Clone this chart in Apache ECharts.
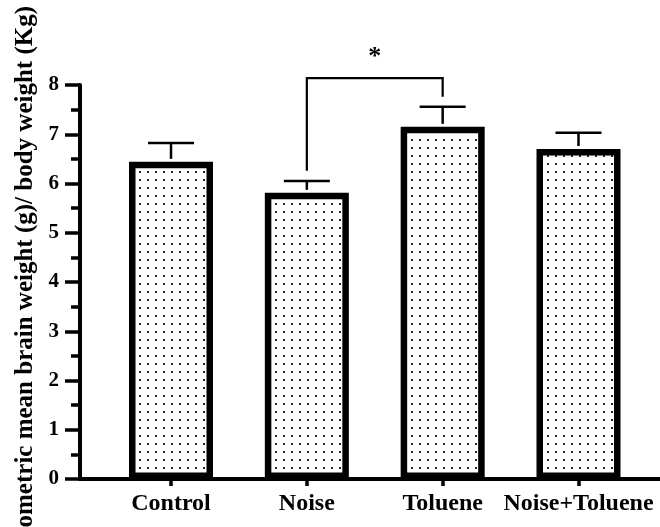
<!DOCTYPE html>
<html>
<head>
<meta charset="utf-8">
<script src="https://cdn.jsdelivr.net/npm/echarts@6/dist/echarts.min.js"></script>
<style>
html,body{margin:0;padding:0;background:#fff;}
#chart{width:660px;height:527px;}
</style>
</head>
<body>
<div id="chart"></div>
<script>
const categories = ['Control', 'Noise', 'Toluene', 'Noise+Toluene'];
const means = [6.44, 5.81, 7.15, 6.70];
const errorTops = [6.82, 6.05, 7.56, 7.03];
const yTicks = [0, 1, 2, 3, 4, 5, 6, 7, 8];
const sigPair = [1, 2];
const sigTop = 8.14;
const sigLeftBottom = 6.26;
const sigRightBottom = 7.76;
const sigLabel = '*';
const yName = 'Geometric mean brain weight (g)/ body weight (Kg)';

const FONT = "'Liberation Serif', 'Times New Roman', 'DejaVu Serif', serif";

// dotted fill pattern
const pc = document.createElement('canvas');
pc.width = 8; pc.height = 8;
const pctx = pc.getContext('2d');
pctx.fillStyle = '#fff';
pctx.fillRect(0, 0, 8, 8);
pctx.fillStyle = '#222';
pctx.fillRect(3, 3, 2, 2);

const chart = echarts.init(document.getElementById('chart'), null, {renderer: 'canvas'});

const option = {
  backgroundColor: '#fff',
  animation: false,
  grid: {left: 80, right: 0, top: 85, bottom: 48, containLabel: false, outerBoundsMode: 'none'},
  xAxis: {
    type: 'value',
    min: -0.67,
    max: 3.6,
    splitLine: {show: false},
    axisLine: {show: true, onZero: false, lineStyle: {color: '#000', width: 4}},
    axisTick: {show: true, customValues: [0, 1, 2, 3], length: 7, lineStyle: {color: '#000', width: 3.5}},
    axisLabel: {
      show: true,
      customValues: [0, 1, 2, 3],
      formatter: v => categories[Math.round(v)],
      margin: 13,
      color: '#000',
      fontFamily: FONT,
      fontWeight: 'bold',
      fontSize: 24
    }
  },
  yAxis: {
    type: 'value',
    min: yTicks[0],
    max: yTicks[yTicks.length - 1],
    interval: 1,
    name: yName,
    nameLocation: 'middle',
    nameGap: 42,
    nameRotate: 90,
    nameTextStyle: {color: '#000', fontFamily: FONT, fontWeight: 'bold', fontSize: 25},
    splitLine: {show: false},
    axisLine: {show: true, onZero: false, lineStyle: {color: '#000', width: 4}},
    axisTick: {show: true, length: 15, lineStyle: {color: '#000', width: 3.5}},
    minorTick: {show: true, splitNumber: 2, length: 9, lineStyle: {color: '#000', width: 3.5}},
    axisLabel: {margin: 21, color: '#000', fontFamily: FONT, fontWeight: 'bold', fontSize: 21}
  },
  series: [
    {
      type: 'bar',
      barWidth: 84,
      data: means.map((v, i) => [i, v]),
      itemStyle: {
        color: {image: pc, repeat: 'repeat'},
        borderColor: '#000',
        borderWidth: 6.5
      },
      z: 2
    },
    {
      type: 'custom',
      z: 3,
      data: means.map((v, i) => [i, v, errorTops[i]]),
      renderItem: function (params, api) {
        const x = api.value(0);
        const lo = api.coord([x, api.value(1)]);
        const hi = api.coord([x, api.value(2)]);
        const half = 23;
        return {
          type: 'group',
          children: [
            {type: 'line', shape: {x1: lo[0], y1: lo[1] - 3, x2: hi[0], y2: hi[1]}, style: {stroke: '#000', lineWidth: 2.5}},
            {type: 'line', shape: {x1: hi[0] - half, y1: hi[1], x2: hi[0] + half, y2: hi[1]}, style: {stroke: '#000', lineWidth: 2.5}}
          ]
        };
      }
    },
    {
      type: 'custom',
      z: 3,
      clip: false,
      data: [[sigPair[0], sigPair[1], sigTop, sigLeftBottom, sigRightBottom]],
      renderItem: function (params, api) {
        const x1 = api.value(0), x2 = api.value(1);
        const top = api.value(2);
        const pL = api.coord([x1, api.value(3)]);
        const pLT = api.coord([x1, top]);
        const pRT = api.coord([x2, top]);
        const pR = api.coord([x2, api.value(4)]);
        return {
          type: 'group',
          children: [
            {type: 'polyline', shape: {points: [pL, pLT, pRT, pR]}, style: {stroke: '#000', lineWidth: 2.2, fill: null}},
            {type: 'text', x: (pLT[0] + pRT[0]) / 2, y: pLT[1] - 8,
             style: {text: sigLabel, fill: '#000', font: 'bold 26px ' + FONT, align: 'center', verticalAlign: 'bottom'}}
          ]
        };
      }
    }
  ]
};
chart.setOption(option);
</script>
</body>
</html>
